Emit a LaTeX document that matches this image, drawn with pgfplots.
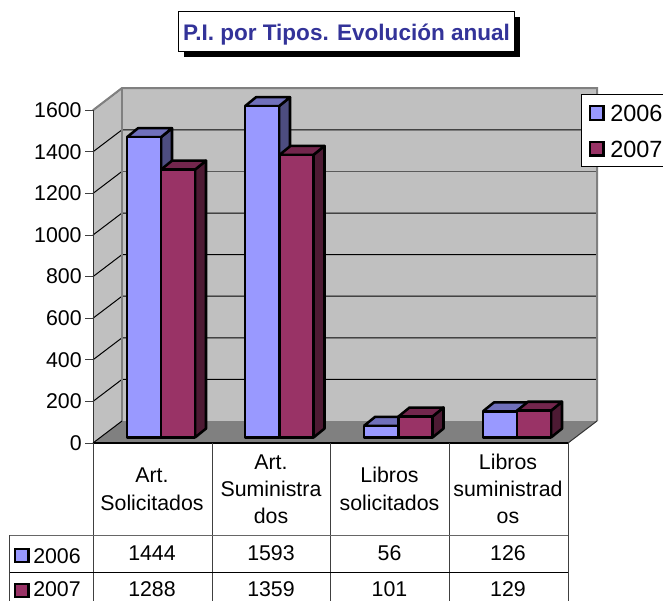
\documentclass[border=0pt]{standalone}
\usepackage{fontspec}
\setmainfont{Liberation Sans}
\usepackage{pgfplots}
\pgfplotsset{compat=1.18}
\definecolor{wall}{HTML}{C0C0C0}
\definecolor{floorc}{HTML}{808080}
\definecolor{aF}{HTML}{9999FF}
\definecolor{aT}{HTML}{7070BB}
\definecolor{aS}{HTML}{4D4D80}
\definecolor{bF}{HTML}{993366}
\definecolor{bT}{HTML}{73264D}
\definecolor{bS}{HTML}{4D1A33}
\definecolor{ttl}{HTML}{333399}
\newcommand{\fs}{\fontsize{16}{18}\selectfont}
\begin{document}
\begin{tikzpicture}
\path[use as bounding box] (0pt,0pt) rectangle (497.25pt,-450.75pt);
% walls, floor, grid and the value axis: x in pixels, y in values
\begin{axis}[
  at={(69.75pt,-450.75pt)}, anchor=south west,
  scale only axis, width=427.5pt, height=450.75pt,
  xmin=93, xmax=663, ymin=-759.6, ymax=2129.8,
  clip=false, axis line style={draw=none},
  xtick=\empty, ytick={0,200,400,600,800,1000,1200,1400,1600},
  tick pos=left, tick align=outside, major tick length=6pt,
  tick style={black!75,line width=0.75pt},
  yticklabel style={font=\fs},
  /pgf/number format/1000 sep={}, /pgf/number format/assume math mode=true,
  yticklabel style={xshift=1pt},
]
\addplot[fill=wall,draw=none] coordinates {(122,105.8)(597,105.8)(597,1706.7)(122,1706.7)(122,105.8)};
\addplot[fill=wall,draw=none] coordinates {(93,0)(122,105.8)(122,1706.7)(93,1600)(93,0)};
\addplot[fill=floorc,draw=none] coordinates {(93,0)(122,105.8)(597,105.8)(568,0)(93,0)};
% grid on the back wall and on the side wall
\pgfplotsinvokeforeach{200,400,600,800,1000,1400,1600}{
  \addplot[black,line width=0.75pt] coordinates {(93,#1)(122,#1+105.8)(597,#1+105.8)};
}
\addplot[black,line width=0.75pt] coordinates {(93,1200)(122,1305.8)};
\addplot[floorc!70!black,line width=1.2pt] coordinates {(122,1305.8)(597,1305.8)};
\addplot[floorc,line width=1.5pt] coordinates {(93,1600)(122,1706.7)(597,1706.7)(597,105.8)};
\addplot[floorc,line width=1.5pt] coordinates {(122,1706.7)(122,105.8)};
\addplot[black!80,line width=0.75pt] coordinates {(93,0)(93,1600)};
\addplot[black!80,line width=0.75pt] coordinates {(568,0)(597,105.8)};
\addplot[black,line width=0.75pt] coordinates {(93,0)(122,105.8)};
\addplot[black,line width=1.5pt] coordinates {(93,0)(568,0)};
\end{axis}
% bars: x in pixels, y in values, zero at the foot of the front faces
\begin{axis}[
  at={(0pt,-450.75pt)}, anchor=south west,
  scale only axis, width=497.25pt, height=450.75pt,
  xmin=0, xmax=663, ymin=-786.06, ymax=2103.4,
  clip=false, hide axis,
]
\pgfplotsset{face/.style={draw=black,line width=1.9pt,line join=round}}
% 2006
\addplot[face,fill=aS] coordinates {(161,0)(172,43)(172,1487)(161,1444)(161,0)};
\addplot[face,fill=aT] coordinates {(127,1444)(161,1444)(172,1487)(138,1487)(127,1444)};
\addplot[face,fill=aS] coordinates {(279,0)(290,43)(290,1636)(279,1593)(279,0)};
\addplot[face,fill=aT] coordinates {(245,1593)(279,1593)(290,1636)(256,1636)(245,1593)};
\addplot[face,fill=aS] coordinates {(398,0)(409,43)(409,99)(398,56)(398,0)};
\addplot[face,fill=aT] coordinates {(364,56)(398,56)(409,99)(375,99)(364,56)};
\addplot[face,fill=aS] coordinates {(517,0)(528,43)(528,169)(517,126)(517,0)};
\addplot[face,fill=aT] coordinates {(483,126)(517,126)(528,169)(494,169)(483,126)};
\addplot[ybar,bar width=25.5pt,bar shift=0pt,face,fill=aF] coordinates {(144,1444)(262,1593)(381,56)(500,126)};
% 2007
\addplot[face,fill=bS] coordinates {(195,0)(206,43)(206,1331)(195,1288)(195,0)};
\addplot[face,fill=bT] coordinates {(161,1288)(195,1288)(206,1331)(172,1331)(161,1288)};
\addplot[face,fill=bS] coordinates {(313.5,0)(324.5,43)(324.5,1402)(313.5,1359)(313.5,0)};
\addplot[face,fill=bT] coordinates {(279.5,1359)(313.5,1359)(324.5,1402)(290.5,1402)(279.5,1359)};
\addplot[face,fill=bS] coordinates {(432.5,0)(443.5,43)(443.5,144)(432.5,101)(432.5,0)};
\addplot[face,fill=bT] coordinates {(398.5,101)(432.5,101)(443.5,144)(409.5,144)(398.5,101)};
\addplot[face,fill=bS] coordinates {(551,0)(562,43)(562,172)(551,129)(551,0)};
\addplot[face,fill=bT] coordinates {(517,129)(551,129)(562,172)(528,172)(517,129)};
\addplot[ybar,bar width=25.5pt,bar shift=0pt,face,fill=bF] coordinates {(178,1288)(296.5,1359)(415.5,101)(534,129)};
\end{axis}
\begin{scope}[x=0.75pt,y=-0.75pt]
% data table
\draw[black!75,line width=0.75pt] (93,443)--(93,601) (212,443)--(212,601) (330.5,443)--(330.5,601) (449,443)--(449,601) (568,443)--(568,601) (9.5,535)--(9.5,601);
\draw[black!60,line width=0.75pt] (9.5,535)--(568,535);
\draw[black,line width=0.75pt] (9.5,572)--(568,572);
\tikzset{t/.style={anchor=base,inner sep=0pt,font=\fs}}
\node[t] at (152,482) {Art.};
\node[t] at (152,510) {Solicitados};
\node[t] at (271,469) {Art.};
\node[t] at (271,496.5) {Suministra};
\node[t] at (271,523.5) {dos};
\node[t] at (389.5,482) {Libros};
\node[t] at (389.5,510) {solicitados};
\node[t] at (508,469) {Libros};
\node[t] at (508,496.5) {suministrad};
\node[t] at (508,523.5) {os};
\node[t] at (152,560) {1444};
\node[t] at (271,560) {1593};
\node[t] at (389.5,560) {56};
\node[t] at (508,560) {126};
\node[t] at (152,596) {1288};
\node[t] at (271,596) {1359};
\node[t] at (389.5,596) {101};
\node[t] at (508,596) {129};
\draw[black,line width=1.9pt,fill=aF] (15,549) rectangle (28.5,562);
\draw[black,line width=1.9pt,fill=bF] (15,584) rectangle (28.5,597);
\node[t,anchor=base west] at (33,563) {2006};
\node[t,anchor=base west] at (33,596.5) {2007};
% legend
\draw[black,line width=0.75pt,fill=white] (581,94) rectangle (670,166);
\draw[black,line width=1.9pt,fill=aF] (590,106) rectangle (603.5,120);
\draw[black,line width=1.9pt,fill=bF] (590,142) rectangle (603.5,155.5);
\node[t,anchor=base west,font=\fontsize{17.6}{20}\selectfont] at (610,121) {2006};
\node[t,anchor=base west,font=\fontsize{17.6}{20}\selectfont] at (610,157) {2007};
% title
\fill[black] (184,17) rectangle (520,56.5);
\draw[black,line width=0.75pt,fill=white] (178,11.5) rectangle (514,51);
\node[anchor=base,inner sep=0pt,text=ttl,font=\fontsize{16.9}{20}\selectfont\bfseries] at (346.5,40) {P.I. por Tipos. Evolución anual};
\end{scope}
\end{tikzpicture}
\end{document}
